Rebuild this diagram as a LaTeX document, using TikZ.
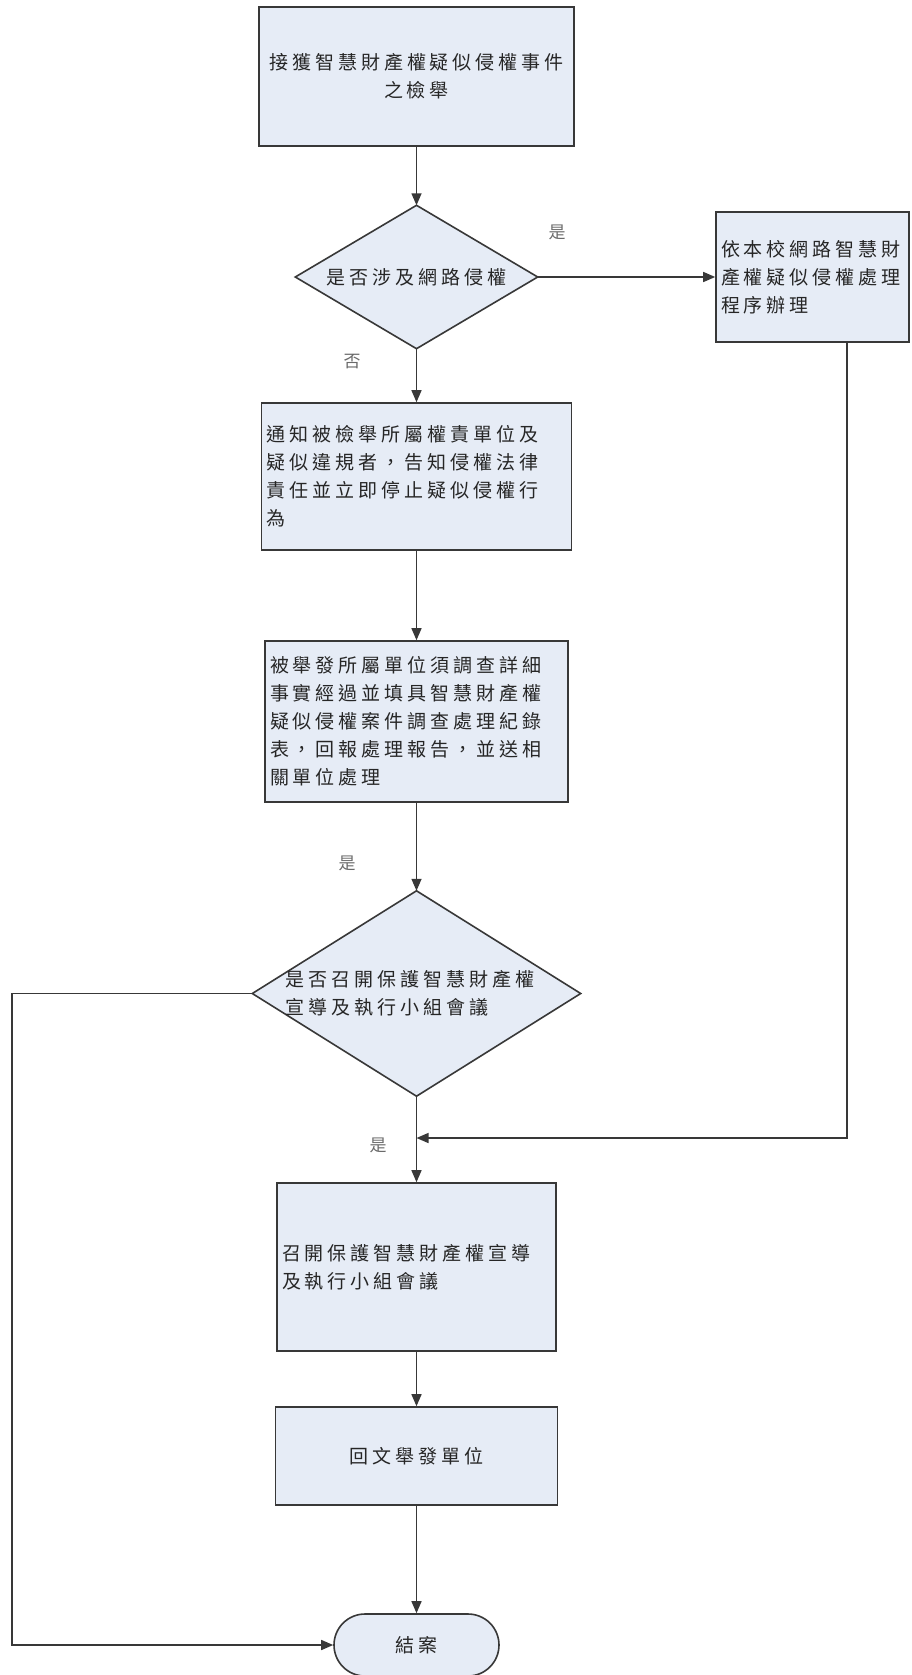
\documentclass[tikz,border=0pt]{standalone}
\usepackage{fontspec}
\usetikzlibrary{arrows.meta,shapes.misc}
\newfontfamily\cjk[LetterSpace=21]{Noto Sans CJK TC}
\newfontfamily\cjkplain{Noto Sans CJK TC}
\definecolor{boxfill}{HTML}{E6ECF6}
\definecolor{linec}{HTML}{383838}
\definecolor{textc}{HTML}{262626}
\definecolor{labc}{HTML}{6A6A6A}
\tikzset{
 box/.style={draw=linec, line width=1.6pt, fill=boxfill, inner sep=0pt, text=textc, font=\cjk\fontsize{19}{28}\selectfont},
 dshape/.style={inner sep=0pt},
 dmdtext/.style={inner sep=0pt, text=textc, font=\cjk\fontsize{19}{28}\selectfont},
 dmdline/.style={draw=linec, line width=1.6pt, fill=boxfill},
 lab/.style={text=labc, font=\cjkplain\fontsize{17}{20}\selectfont},
 arr/.style={draw=linec, line width=1.4pt, -{Triangle[length=12pt,width=10pt]}},
 ln/.style={draw=linec, line width=1.4pt},
}
\begin{document}
\begin{tikzpicture}[x=1pt,y=-1pt]
\useasboundingbox[fill=white] (0,0) rectangle (912,1675);
% boxes
\node[box, minimum width=315, minimum height=139, text width=305, align=center] (b1) at (416.5,76.5) {接獲智慧財產權疑似侵權事件\\之檢舉};
\node[dshape, minimum width=242, minimum height=143] (d1) at (416.5,277) {};
\draw[dmdline] (d1.north) -- (d1.east) -- (d1.south) -- (d1.west) -- cycle;
\node[dmdtext, text width=200, align=center] (d1t) at (d1.center) {是否涉及網路侵權};
\node[box, minimum width=193, minimum height=130, text width=183, align=left] (r) at (812.5,277) {依本校網路智慧財\\產權疑似侵權處理\\程序辦理};
\node[box, minimum width=310, minimum height=147, text width=300, align=left] (b3) at (416.5,476.5) {通知被檢舉所屬權責單位及\\疑似違規者，告知侵權法律\\責任並立即停止疑似侵權行\\為};
\node[box, minimum width=303, minimum height=161, text width=293, align=left] (b4) at (416.5,721.5) {被舉發所屬單位須調查詳細\\事實經過並填具智慧財產權\\疑似侵權案件調查處理紀錄\\表，回報處理報告，並送相\\關單位處理};
\node[dshape, minimum width=328, minimum height=205] (d2) at (416.5,993.5) {};
\draw[dmdline] (d2.north) -- (d2.east) -- (d2.south) -- (d2.west) -- cycle;
\node[dmdtext, text width=262, align=left] (d2t) at (d2.center) {是否召開保護智慧財產權\\宣導及執行小組會議};
\node[box, minimum width=279, minimum height=168, text width=269, align=left] (b5) at (416.5,1267) {召開保護智慧財產權宣導\\及執行小組會議};
\node[box, minimum width=282, minimum height=98, text width=272, align=center] (b6) at (416.5,1456) {回文舉發單位};
\node[box, rounded rectangle, minimum width=165, minimum height=62, align=center] (end) at (416.5,1645) {結案};
% connectors
\draw[arr] (b1.south) -- (d1.north);
\draw[arr] (d1.east) -- (r.west);
\draw[arr] (d1.south) -- (b3.north);
\draw[arr] (b3.south) -- (b4.north);
\draw[arr] (b4.south) -- (d2.north);
\draw[arr] (d2.south) -- (b5.north);
\draw[arr] (b5.south) -- (b6.north);
\draw[arr] (b6.south) -- (end.north);
\coordinate (rc) at (847,1138);
\draw[arr] (r.south -| rc) -- (rc) -- (rc -| d2.south);
\coordinate (lc) at (12,1645);
\draw[arr] (d2.west) -- (d2.west -| lc) -- (lc) -- (end.west);
% labels
\node[lab] (l1) at (557,232) {是};
\node[lab] (l2) at (352,362) {否};
\node[lab] (l3) at (347,863) {是};
\node[lab] (l4) at (378,1145) {是};
\end{tikzpicture}
\end{document}
